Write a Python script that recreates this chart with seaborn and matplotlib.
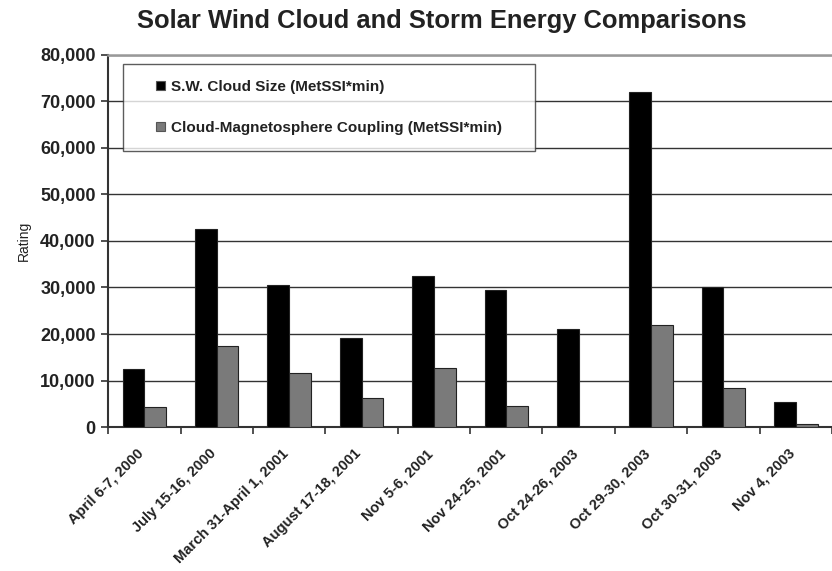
import matplotlib
matplotlib.use("Agg")
import matplotlib.pyplot as plt
import matplotlib.transforms as mtrans
import pandas as pd
import seaborn as sns
import numpy as np
from matplotlib.ticker import FuncFormatter, FixedLocator
from matplotlib.patches import Rectangle
from matplotlib.legend_handler import HandlerPatch

events = ["April 6-7, 2000", "July 15-16, 2000", "March 31-April 1, 2001",
          "August 17-18, 2001", "Nov 5-6, 2001", "Nov 24-25, 2001",
          "Oct 24-26, 2003", "Oct 29-30, 2003", "Oct 30-31, 2003", "Nov 4, 2003"]
cloud_size = [12500, 42600, 30500, 19100, 32500, 29500, 21000, 72000, 30100, 5400]
coupling = [4300, 17400, 11600, 6200, 12700, 4500, 0, 21900, 8400, 600]
series_names = ["S.W. Cloud Size (MetSSI*min)",
                "Cloud-Magnetosphere Coupling (MetSSI*min)"]

df = pd.DataFrame({
    "event": events * 2,
    "rating": cloud_size + coupling,
    "series": [series_names[0]] * len(events) + [series_names[1]] * len(events),
})


def square_handle(legend, orig_handle, xdescent, ydescent, width, height, fontsize):
    # small square pushed to the right end of the handle box
    s = height
    return Rectangle((width - s - xdescent, -ydescent), s, s)


sns.set_style("white")
plt.rcParams["font.family"] = ["Liberation Sans", "DejaVu Sans"]

fig = plt.figure(figsize=(8.32, 5.71), dpi=100)
ax = fig.add_axes([0.13, 0.252, 0.87, 0.652])

sns.barplot(data=df, x="event", y="rating", hue="series", order=events,
            hue_order=series_names, palette=["#000000", "#7a7a7a"],
            width=0.6, edgecolor="#222222", linewidth=0.8, ax=ax, zorder=3)

ax.set_ylim(0, 80000)
ax.set_xlim(-0.5, 9.364)
ax.yaxis.set_major_locator(FixedLocator(np.arange(0, 80001, 10000)))
ax.yaxis.set_major_formatter(FuncFormatter(lambda v, p: f"{int(v):,}"))
ax.grid(axis="y", color="#333333", linewidth=1.0, zorder=0)
ax.set_axisbelow(True)

ax.spines["right"].set_visible(False)
ax.spines["top"].set_color("#999999")
ax.spines["top"].set_linewidth(1.8)
for s in ["left", "bottom"]:
    ax.spines[s].set_color("#333333")
    ax.spines[s].set_linewidth(1.5)

ax.set_xticks(range(len(events)))
ax.set_xticklabels(events, rotation=45, ha="right", rotation_mode="anchor",
                   fontsize=10.5, fontweight="bold", color="#222222")
ax.set_xticks(np.arange(-0.5, 10, 1.0), minor=True)
ax.tick_params(axis="x", which="major", length=0, pad=14)
ax.tick_params(axis="x", which="minor", length=5, width=1.2, direction="out",
               color="#333333", bottom=True)
ax.tick_params(axis="y", length=5, width=1.2, direction="out", color="#333333",
               left=True, labelsize=13, pad=4)
for lab in ax.get_yticklabels():
    lab.set_fontweight("bold")
    lab.set_color("#222222")
# nudge the rotated date labels a bit to the left
shift = mtrans.ScaledTranslation(-8 / 100, 0, fig.dpi_scale_trans)
for lab in ax.get_xticklabels():
    lab.set_transform(lab.get_transform() + shift)

ax.set_xlabel("")
ax.set_ylabel("Rating", fontsize=10, color="#222222")
ax.yaxis.set_label_coords(-0.107, 0.5)

fig.suptitle("Solar Wind Cloud and Storm Energy Comparisons", x=0.531, y=0.985,
             fontsize=18.4, fontweight="bold", color="#222222")

leg = ax.legend(loc="upper left", bbox_to_anchor=(0.0207, 0.76, 0.569, 0.216),
                mode="expand", borderaxespad=0, frameon=True, fancybox=False,
                prop={"size": 11, "weight": "bold"}, labelspacing=1.75,
                handlelength=1.7, handleheight=0.55, handletextpad=0.35,
                borderpad=1.05,
                handler_map={Rectangle: HandlerPatch(patch_func=square_handle)})
leg.get_frame().set_edgecolor("#333333")
leg.get_frame().set_linewidth(1.0)
leg.get_frame().set_facecolor("white")
leg.set_zorder(5)
for h in leg.legend_handles:
    h.set_edgecolor("#555555")
for t in leg.get_texts():
    t.set_color("#222222")

fig.savefig("out.png", dpi=100)
